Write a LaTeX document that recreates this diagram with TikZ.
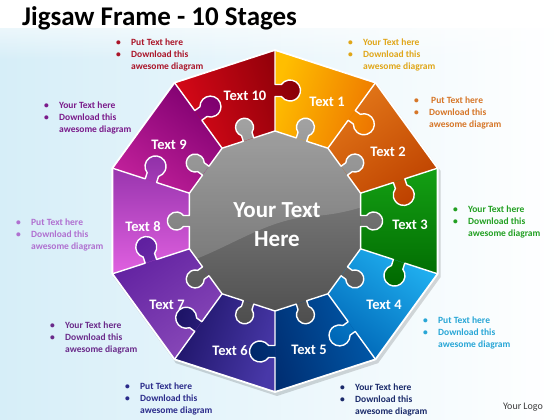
\documentclass[tikz,border=0pt]{standalone}
\usepackage{fontspec}
\setmainfont{Carlito}
\usetikzlibrary{fadings}
\definecolor{bgl}{RGB}{214,238,248}
\definecolor{pa1}{RGB}{255,190,0}\definecolor{pb1}{RGB}{238,120,0}
\definecolor{pa2}{RGB}{226,118,24}\definecolor{pb2}{RGB}{190,66,0}
\definecolor{pa3}{RGB}{20,160,20}\definecolor{pb3}{RGB}{0,104,0}
\definecolor{pa4}{RGB}{32,176,240}\definecolor{pb4}{RGB}{0,104,184}
\definecolor{pa5}{RGB}{0,88,168}\definecolor{pb5}{RGB}{0,40,106}
\definecolor{pa6}{RGB}{72,56,168}\definecolor{pb6}{RGB}{30,20,104}
\definecolor{pa7}{RGB}{136,72,184}\definecolor{pb7}{RGB}{96,32,160}
\definecolor{pa8}{RGB}{224,96,224}\definecolor{pb8}{RGB}{144,48,168}
\definecolor{pa9}{RGB}{192,32,154}\definecolor{pb9}{RGB}{128,0,112}
\definecolor{pa10}{RGB}{216,8,24}\definecolor{pb10}{RGB}{138,0,8}
\definecolor{grA}{RGB}{150,150,150}\definecolor{grB}{RGB}{72,72,72}
\definecolor{c10}{RGB}{170,20,40}
\definecolor{c1}{RGB}{224,166,24}
\definecolor{c2}{RGB}{214,118,40}
\definecolor{c3}{RGB}{34,160,34}
\definecolor{c4}{RGB}{40,166,214}
\definecolor{c5}{RGB}{26,42,106}
\definecolor{c6}{RGB}{42,42,138}
\definecolor{c7}{RGB}{106,42,138}
\definecolor{c8}{RGB}{176,112,208}
\definecolor{c9}{RGB}{122,26,138}
% small knob (gray centre)
\def\knob{(-5.5,0) -- (-5.5,5.9) arc[start angle=232.3,end angle=-52.3,radius=9] -- (5.5,0) -- cycle}
\def\knobline#1{(-#1,0) -- (-5.5,0) -- (-5.5,5.9) arc[start angle=232.3,end angle=-52.3,radius=9] -- (5.5,0) -- (#1,0)}
% large knob (between pieces)
\def\bknob{(-6,0) -- (-6,6.38) arc[start angle=235.15,end angle=-55.15,radius=10.5] -- (6,0) -- cycle}
\def\bknobline#1{(-#1,0) -- (-6,0) -- (-6,6.38) arc[start angle=235.15,end angle=-55.15,radius=10.5] -- (6,0) -- (#1,0)}
\newcommand\bblock[2]{\begin{tabular}[t]{@{}l@{}}\makebox[15pt][l]{\textbullet}#2#1\\\makebox[15pt][l]{\textbullet}Download this\\\hspace*{15pt}awesome diagram\end{tabular}}
\begin{document}
\begin{tikzpicture}[x=1pt,y=1pt,
  outl/.style={draw=white,line width=1.4pt,line join=round},
  lbl/.style={text=white,font=\fontsize{14.5}{16}\selectfont\bfseries,inner sep=0pt},
  bul/.style={anchor=base west,inner sep=0pt,font=\fontsize{9.5}{12}\selectfont\bfseries}]
\useasboundingbox (0,0) rectangle (560,420);
\shade[left color=bgl,right color=white] (0,0) rectangle (560,420);
\fill[white,path fading=south] (0,420) rectangle (560,360);
\fill[white] (0,420) rectangle (560,392);
\node[anchor=west,inner sep=0pt,font=\fontsize{27}{30}\selectfont\bfseries] (title) at (22,402) {Jigsaw Frame - 10 Stages};
\begin{scope}[shift={(275,199)}]
  % shadow
  \fill[black,opacity=.15] [shift={(2,-3)}] (90:172) \foreach \a in {126,162,...,414}{ -- (\a:172)} -- cycle;
  % gray center
  \def\graypath{(90:90) \foreach \a in {126,162,...,414}{ -- (\a:90)} -- cycle
    \foreach \ang in {72,36,...,-252}{ {[rotate=\ang,shift={(85.6,0)},rotate=-90] \knob} }}
  \begin{scope}
    \clip \graypath;
    \shade[top color=grA,bottom color=grB] (-120,-120) rectangle (120,120);
    \fill[white,opacity=.16] (-130,-52) .. controls (-60,-42) and (-20,2) .. (40,5) .. controls (80,8) and (100,20) .. (130,26) -- (130,130) -- (-130,130) -- cycle;
  \end{scope}
  % pieces
  \foreach \k in {1,...,10}{
    \pgfmathsetmacro\ang{108-36*\k}
    \pgfmathsetmacro\angp{\ang+18}
    \pgfmathsetmacro\angm{\ang-18}
    \shade[even odd rule,top color=pa\k,bottom color=pb\k,shading angle=\ang]
      (\angp:90) -- (\angp:171) -- (\angm:171) -- (\angm:90) -- cycle
      {[rotate=\angm,shift={(130.5,0)},rotate=180] \bknob}
      {[rotate=\angp,shift={(130.5,0)},rotate=180] \bknob}
      {[rotate=\ang,shift={(85.6,0)},rotate=-90] \knob};
  }
  % outlines
  \foreach \k in {1,...,10}{
    \pgfmathsetmacro\ang{108-36*\k}
    \pgfmathsetmacro\angm{\ang-18}
    \draw[outl,rotate=\angm,shift={(130.5,0)},rotate=180] \bknobline{40.5};
    \draw[outl,rotate=\ang,shift={(85.6,0)},rotate=-90] \knobline{27.8};
  }
  \draw[outl,line width=1.8pt] (90:171) \foreach \a in {126,162,...,414}{ -- (\a:171)} -- cycle;
\end{scope}
% labels
\node[lbl] (t10) at (245,324) {Text 10};
\node[lbl] (t1) at (327,318) {Text 1};
\node[lbl] (t2) at (388,268) {Text 2};
\node[lbl] (t3) at (410,195) {Text 3};
\node[lbl] (t4) at (384,115) {Text 4};
\node[lbl] (t5) at (309,70) {Text 5};
\node[lbl] (t6) at (230,69) {Text 6};
\node[lbl] (t7) at (167,115) {Text 7};
\node[lbl] (t8) at (143,193) {Text 8};
\node[lbl] (t9) at (169,275) {Text 9};
\node[text=white,align=center,inner sep=0pt,font=\fontsize{23}{29}\selectfont\bfseries] (center) at (277,195) {Your Text\\Here};
% bullet blocks
\node[bul,text=c10] (b10) at (116,374.5) {\bblock{Put Text  here}{}};
\node[bul,text=c1] (b1) at (348,374.5) {\bblock{Your Text here}{}};
\node[bul,text=c2] (b2) at (414,316.5) {\bblock{Put Text here}{\hspace{2pt}}};
\node[bul,text=c3] (b3) at (453,207.5) {\bblock{Your Text here}{}};
\node[bul,text=c4] (b4) at (423,96.5) {\bblock{Put Text  here}{}};
\node[bul,text=c5] (b5) at (340,29.5) {\bblock{Your Text  here}{}};
\node[bul,text=c6] (b6) at (125,30.5) {\bblock{Put Text  here}{}};
\node[bul,text=c7] (b7) at (50,91.5) {\bblock{Your Text  here}{}};
\node[bul,text=c8] (b8) at (16,194.5) {\bblock{Put Text  here}{}};
\node[bul,text=c9] (b9) at (44,311.5) {\bblock{Your Text  here}{}};
\node[text={rgb,255:red,60;green,60;blue,60},inner sep=0pt,font=\fontsize{10}{12}\selectfont] (logo) at (523,13) {Your Logo};
\end{tikzpicture}
\end{document}
